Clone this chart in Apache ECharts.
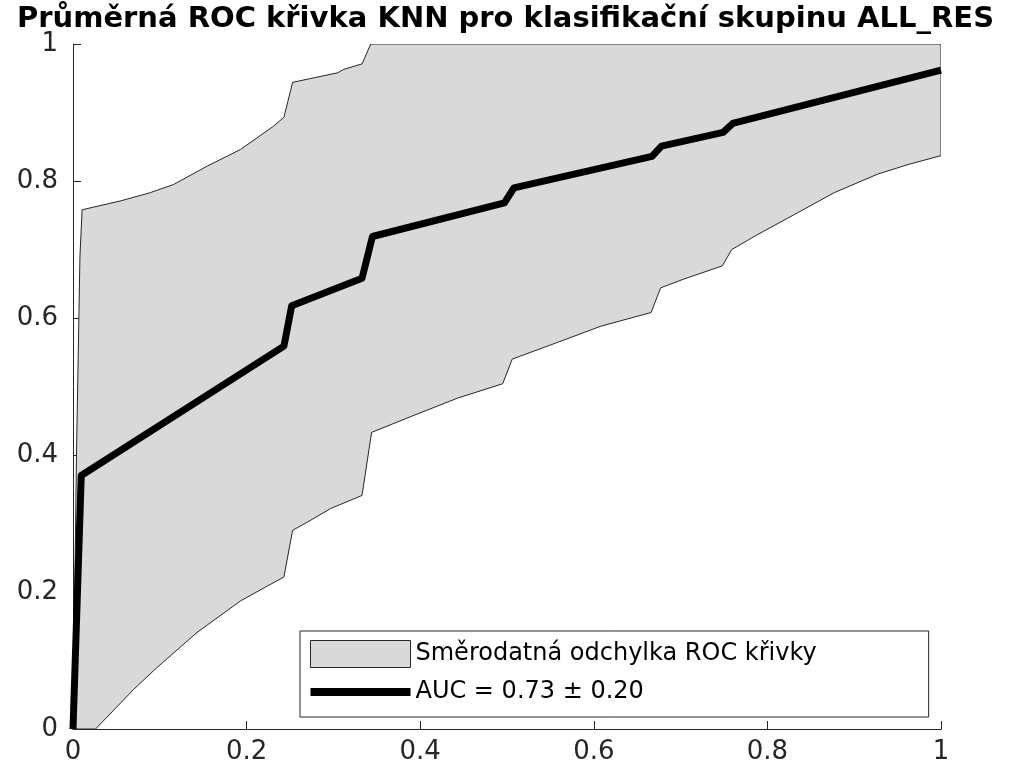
<!DOCTYPE html>
<html>
<head>
<meta charset="utf-8">
<title>Průměrná ROC křivka KNN</title>
<script src="https://cdn.jsdelivr.net/npm/echarts@6/dist/echarts.min.js"></script>
<style>
  html, body { margin: 0; padding: 0; background: #fff; }
  #chart { width: 1011px; height: 773px; }
</style>
</head>
<body>
<div id="chart"></div>
<script>
// průměrná ROC křivka (FPR, TPR)
const meanFpr = [0, 0.0095, 0.243, 0.252, 0.333, 0.345, 0.497, 0.508, 0.667, 0.678, 0.749, 0.760, 1];
const meanTpr = [0, 0.370, 0.559, 0.618, 0.658, 0.719, 0.768, 0.790, 0.836, 0.851, 0.871, 0.884, 0.962];

// horní hranice (průměr + směrodatná odchylka)
const upperFpr = [0, 0.004, 0.008, 0.0105, 0.055, 0.089, 0.116, 0.155, 0.193, 0.231, 0.243, 0.253, 0.305, 0.312, 0.333, 0.343, 1];
const upperTpr = [0, 0.40, 0.69, 0.758, 0.771, 0.783, 0.795, 0.822, 0.846, 0.880, 0.893, 0.944, 0.958, 0.963, 0.971, 1, 1];

// dolní hranice (průměr - směrodatná odchylka)
const lowerFpr = [0.026, 0.070, 0.097, 0.143, 0.193, 0.243, 0.253, 0.270, 0.297, 0.333, 0.344, 0.393, 0.443, 0.495, 0.506, 0.566, 0.608, 0.666, 0.677, 0.704, 0.748, 0.759, 0.789, 0.831, 0.877, 0.927, 0.962, 1];
const lowerTpr = [0, 0.058, 0.090, 0.141, 0.187, 0.222, 0.290, 0.302, 0.322, 0.341, 0.433, 0.458, 0.483, 0.504, 0.540, 0.568, 0.588, 0.608, 0.644, 0.657, 0.676, 0.700, 0.722, 0.751, 0.783, 0.810, 0.824, 0.837];

const tickLabels = ['0', '0.2', '0.4', '0.6', '0.8', '1'];

const bandName = 'Směrodatná odchylka ROC křivky';
const meanName = 'AUC = 0.73 ± 0.20';

// polygon pásma: horní hranice tam, dolní zpět
const bandPoints = upperFpr.map((x, i) => [x, upperTpr[i]])
  .concat(lowerFpr.map((x, i) => [x, lowerTpr[i]]).reverse());
const meanPoints = meanFpr.map((x, i) => [x, meanTpr[i]]);

const axisColor = '#262626';
const font = 'DejaVu Sans';

function axisCommon(margin) {
  return {
    type: 'value',
    min: 0,
    max: 1,
    interval: 0.2,
    splitLine: { show: false },
    axisLine: { show: true, lineStyle: { color: axisColor, width: 1 } },
    axisTick: { show: true, inside: true, length: 8, lineStyle: { color: axisColor } },
    axisLabel: {
      color: axisColor,
      fontFamily: font,
      fontSize: 26,
      margin: margin,
      formatter: v => tickLabels[Math.round(v / 0.2)]
    }
  };
}

const chart = echarts.init(document.getElementById('chart'));

chart.setOption({
  animation: false,
  backgroundColor: '#fff',
  title: {
    text: 'Průměrná ROC křivka KNN pro klasifikační skupinu ALL_RES',
    left: 'center',
    top: 0,
    textStyle: { fontFamily: font, fontSize: 29, fontWeight: 'bold', color: '#000' }
  },
  grid: { left: 73, right: 70, top: 44, bottom: 44, containLabel: false },
  xAxis: axisCommon(10),
  yAxis: axisCommon(15),
  legend: {
    orient: 'vertical',
    left: 300,
    top: 631,
    padding: [9, 112, 13, 10],
    itemGap: 12,
    itemWidth: 100,
    itemHeight: 27,
    backgroundColor: '#fff',
    borderColor: axisColor,
    borderWidth: 1,
    borderRadius: 0,
    selectedMode: false,
    textStyle: { fontFamily: font, fontSize: 24, color: '#000' },
    data: [
      {
        name: bandName,
        icon: 'rect',
        itemStyle: { color: '#d9d9d9', borderColor: axisColor, borderWidth: 1 }
      },
      {
        name: meanName,
        icon: 'path://M0,0H100V8H0Z',
        itemStyle: { color: '#000', borderWidth: 0 }
      }
    ]
  },
  series: [
    {
      name: bandName,
      type: 'custom',
      clip: true,
      itemStyle: { color: '#d9d9d9' },
      data: bandPoints,
      encode: { x: 0, y: 1 },
      renderItem: function (params, api) {
        if (params.dataIndexInside !== 0) return null;
        const pts = bandPoints.map(p => api.coord(p));
        return {
          type: 'polygon',
          shape: { points: pts },
          style: { fill: '#d9d9d9', stroke: axisColor, lineWidth: 1 }
        };
      },
      z: 1
    },
    {
      name: meanName,
      type: 'line',
      data: meanPoints,
      showSymbol: false,
      symbol: 'none',
      clip: true,
      itemStyle: { color: '#000' },
      lineStyle: { color: '#000', width: 7, join: 'round', cap: 'butt' },
      z: 3
    }
  ]
});
</script>
</body>
</html>
